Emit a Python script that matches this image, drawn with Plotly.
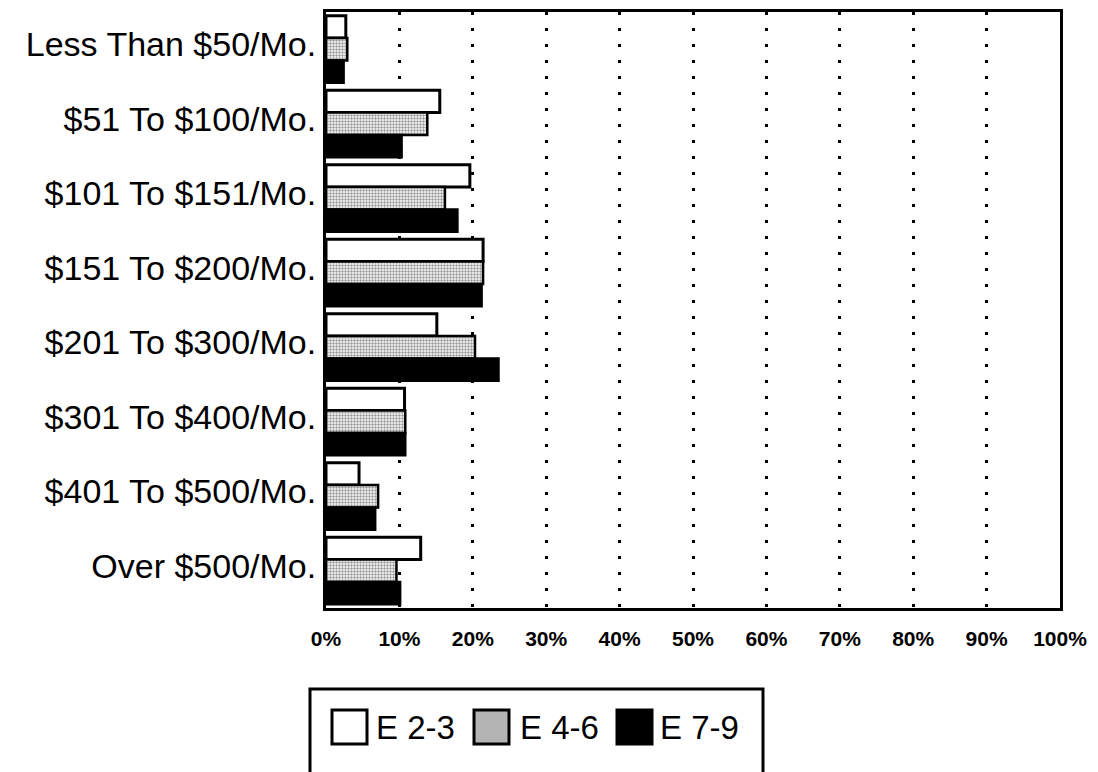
import plotly.graph_objects as go

categories = ["Less Than $50/Mo.", "$51 To $100/Mo.", "$101 To $151/Mo.", "$151 To $200/Mo.",
              "$201 To $300/Mo.", "$301 To $400/Mo.", "$401 To $500/Mo.", "Over $500/Mo."]
series_names = ["E 2-3", "E 4-6", "E 7-9"]
e23 = [2.7, 15.5, 19.6, 21.4, 15.1, 10.7, 4.5, 12.9]
e46 = [2.9, 13.8, 16.2, 21.4, 20.3, 10.8, 7.1, 9.6]
e79 = [2.4, 10.3, 17.9, 21.2, 23.5, 10.8, 6.7, 10.1]
x_ticks = list(range(0, 101, 10))

W, H = 1098, 772
ML, MR, MT, MB = 318, 46, 4, 172
PW, PH = W - ML - MR, H - MT - MB

def px(fx):
    return (fx - ML) / PW

def py(fy):
    return (MT + PH - fy) / PH

FONT = "Liberation Sans, Arial, Helvetica, sans-serif"
PATTERN = dict(shape=".", fgcolor="#333333", bgcolor="white", size=3, solidity=0.5)

fig = go.Figure()
fig.add_trace(go.Bar(y=categories, x=e23, orientation="h", name=series_names[0],
                     marker=dict(color="white", line=dict(color="black", width=3))))
fig.add_trace(go.Bar(y=categories, x=e46, orientation="h", name=series_names[1],
                     marker=dict(color="white", line=dict(color="black", width=2.5),
                                 pattern=PATTERN)))
fig.add_trace(go.Bar(y=categories, x=e79, orientation="h", name=series_names[2],
                     marker=dict(color="black", line=dict(color="black", width=2.5))))

# Legend drawn as a box with swatches (styled like the original)
shapes = [dict(type="rect", xref="paper", yref="paper",
               x0=px(302), x1=px(755), y0=py(681), y1=py(800),
               line=dict(color="black", width=3), fillcolor="white", layer="above")]
swatch_fill = ["white", "#b4b4b4", "black"]
swatch_x = [324, 466, 609]
text_x = [366, 510, 650]
for i, name in enumerate(series_names):
    shapes.append(dict(type="rect", xref="paper", yref="paper",
                       x0=px(swatch_x[i]), x1=px(swatch_x[i] + 35),
                       y0=py(702), y1=py(736),
                       line=dict(color="black", width=3), fillcolor=swatch_fill[i],
                       layer="above"))
annotations = [dict(xref="paper", yref="paper", x=px(text_x[i]), y=py(719),
                    xanchor="left", yanchor="middle", text=name, showarrow=False,
                    font=dict(size=33, family=FONT, color="black"))
               for i, name in enumerate(series_names)]

fig.update_layout(
    width=W, height=H,
    paper_bgcolor="white", plot_bgcolor="white",
    margin=dict(l=ML, r=MR, t=MT, b=MB, autoexpand=False),
    barmode="group", bargap=0.1, bargroupgap=0.0,
    font=dict(family=FONT, color="black"),
    showlegend=False,
    shapes=shapes, annotations=annotations,
)
fig.update_xaxes(range=[0, 100], tickvals=x_ticks, ticktext=[f"{v}%" for v in x_ticks],
                 showgrid=True, gridcolor="black", gridwidth=3, griddash="3px,13px",
                 showline=True, linecolor="black", linewidth=3, mirror=True,
                 ticks="", tickfont=dict(size=21, family=FONT, weight="bold"),
                 ticklabelstandoff=10, zeroline=False)
fig.update_yaxes(autorange="reversed", showgrid=False, showline=True, linecolor="black",
                 linewidth=3, mirror=True, ticks="", tickfont=dict(size=34, family=FONT),
                 ticklabelstandoff=0, ticklabelshift=5)

fig.write_html("out.html")
